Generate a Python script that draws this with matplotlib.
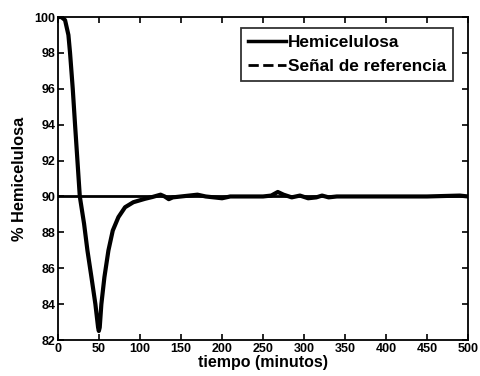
import matplotlib
matplotlib.use("Agg")
import matplotlib.pyplot as plt
from matplotlib.lines import Line2D

plt.rcParams['font.family'] = ['Liberation Sans', 'DejaVu Sans']
plt.rcParams['font.weight'] = 'bold'

# Hemicellulose response over time (minutes, %)
tiempo = [0, 4, 8.5, 12.6, 14.6, 17.9, 20.7, 23.6, 26.5, 31.7, 35.8, 40.7, 45.5,
          48.8, 49.7, 50.8, 52.8, 56.5, 61.4, 66.7, 73.6, 81.7, 91.8, 106, 115,
          125, 130, 135, 140, 150, 160, 170, 180, 190, 200, 210, 230, 250, 260,
          268, 275, 285, 295, 305, 315, 322, 330, 340, 360, 400, 450, 490, 500]
hemicelulosa = [100, 100, 99.83, 99.0, 98.0, 96.0, 94.0, 92.0, 90.0, 88.48, 86.99,
                85.5, 84.0, 82.7, 82.5, 82.7, 84.0, 85.5, 86.99, 88.1, 88.85, 89.4,
                89.68, 89.87, 89.97, 90.1, 90, 89.85, 89.95, 90, 90.05, 90.1, 90,
                89.95, 89.9, 90, 90, 90, 90.05, 90.25, 90.1, 89.95, 90.05, 89.9,
                89.95, 90.05, 89.95, 90, 90, 90, 90, 90.05, 90]

# Reference signal (setpoint)
referencia_t = [0, 500]
referencia = [90, 90]

xticks = [0, 50, 100, 150, 200, 250, 300, 350, 400, 450, 500]
yticks = [82, 84, 86, 88, 90, 92, 94, 96, 98, 100]

fig = plt.figure(figsize=(4.8, 3.76), dpi=100)
ax = fig.add_axes([0.121, 0.0957, 0.854, 0.859])

ax.plot(referencia_t, referencia, color='black', linewidth=2.0)
ax.plot(tiempo, hemicelulosa, color='black', linewidth=3.0)

ax.set_xlim(0, 500)
ax.set_ylim(82, 100)
ax.set_xticks(xticks)
ax.set_yticks(yticks)
ax.tick_params(direction='in', top=True, right=True, length=4, width=1.2,
               labelsize=9, pad=2)
for lab in ax.get_xticklabels() + ax.get_yticklabels():
    lab.set_fontweight('bold')
for s in ax.spines.values():
    s.set_linewidth(1.3)

ax.set_xlabel('tiempo (minutos)', fontsize=11.5, fontweight='bold', labelpad=0)
ax.set_ylabel('% Hemicelulosa', fontsize=11.8, fontweight='bold', labelpad=5)

handles = [Line2D([], [], color='black', linewidth=2.5),
           Line2D([], [], color='black', linewidth=2.0, linestyle='--')]
leg = ax.legend(handles, ['Hemicelulosa', 'Señal de referencia'],
                loc='upper right', bbox_to_anchor=(0.963, 0.966),
                borderaxespad=0, fontsize=12.4, frameon=True, fancybox=False,
                edgecolor='black', handlelength=2.2, handletextpad=0.15,
                borderpad=0.38, labelspacing=0.55)
leg.get_frame().set_linewidth(1.3)
for txt in leg.get_texts():
    txt.set_fontweight('bold')

fig.savefig('out.png', dpi=100)
